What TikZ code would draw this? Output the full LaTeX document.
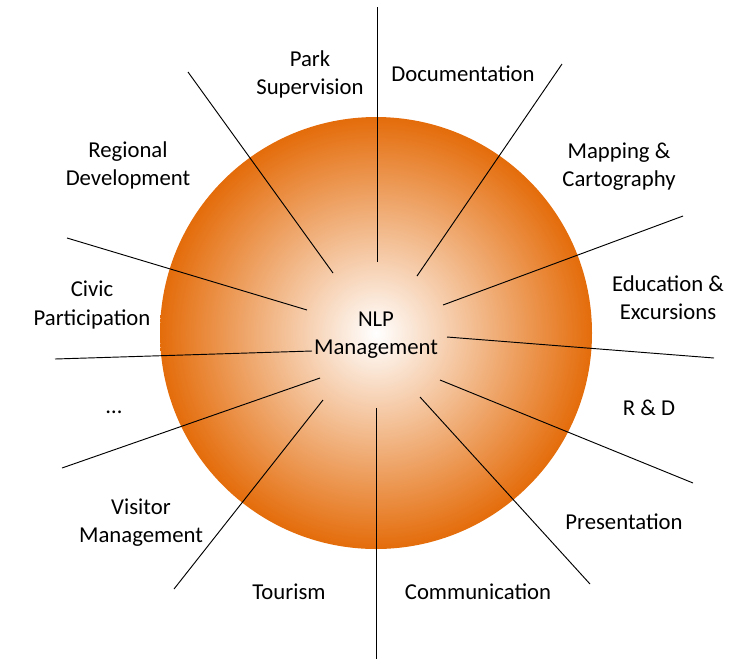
\documentclass[tikz,border=0pt]{standalone}
\usepackage{fontspec}
\setmainfont{Carlito}
\usepackage{xcolor}
\definecolor{nlporange}{HTML}{E46C0A}

\begin{document}
\begin{tikzpicture}[x=0.03cm,y=0.03cm]
		\tikzstyle{every node}+=[inner sep=0pt, align=center, font=\fontsize{19.4}{24}\selectfont]
		\tikzstyle{spoke}=[black, line width=0.8pt]
		\useasboundingbox (0,0) rectangle (731,-659);
		\shade [inner color=white, outer color=nlporange] (376,-333) circle (216);
		\node (nlp) at (376,-335) {NLP\\Management};
		\node (park) at (310,-74) {Park\\Supervision};
		\node (doc) at (463,-74) {Documentation};
		\node (map) at (619,-167) {Mapping \&\\Cartography};
		\node (edu) at (668,-298) {Education \&\\Excursions};
		\node (rd) at (649,-408) {R \& D};
		\node (pres) at (624,-522) {Presentation};
		\node (comm) at (478,-592) {Communication};
		\node (tour) at (289,-592) {Tourism};
		\node (visit) at (141,-523) {Visitor\\Management};
		\node (more) at (114,-412) {…};
		\node (civic) at (92,-305) {Civic\\Participation};
		\node (reg) at (128,-165) {Regional\\Development};
		\coordinate (in1) at (377,-262);
		\coordinate (out1) at (377,-7);
		\draw [spoke] (in1) -- (out1);
		\coordinate (in2) at (417,-276);
		\coordinate (out2) at (562,-64);
		\draw [spoke] (in2) -- (out2);
		\coordinate (in3) at (443,-305);
		\coordinate (out3) at (683,-216);
		\draw [spoke] (in3) -- (out3);
		\coordinate (in4) at (447,-337);
		\coordinate (out4) at (714,-358);
		\draw [spoke] (in4) -- (out4);
		\coordinate (in5) at (440,-380);
		\coordinate (out5) at (693,-483);
		\draw [spoke] (in5) -- (out5);
		\coordinate (in6) at (420,-397);
		\coordinate (out6) at (590,-584);
		\draw [spoke] (in6) -- (out6);
		\coordinate (in7) at (376,-408);
		\coordinate (out7) at (376,-659);
		\draw [spoke] (in7) -- (out7);
		\coordinate (in8) at (323,-400);
		\coordinate (out8) at (174,-589);
		\draw [spoke] (in8) -- (out8);
		\coordinate (in9) at (320,-378);
		\coordinate (out9) at (62,-468);
		\draw [spoke] (in9) -- (out9);
		\coordinate (in10) at (312,-351);
		\coordinate (out10) at (55,-359);
		\draw [spoke] (in10) -- (out10);
		\coordinate (in11) at (307,-310);
		\coordinate (out11) at (67,-238);
		\draw [spoke] (in11) -- (out11);
		\coordinate (in12) at (333,-273);
		\coordinate (out12) at (188,-72);
		\draw [spoke] (in12) -- (out12);
	\end{tikzpicture}
\end{document}
